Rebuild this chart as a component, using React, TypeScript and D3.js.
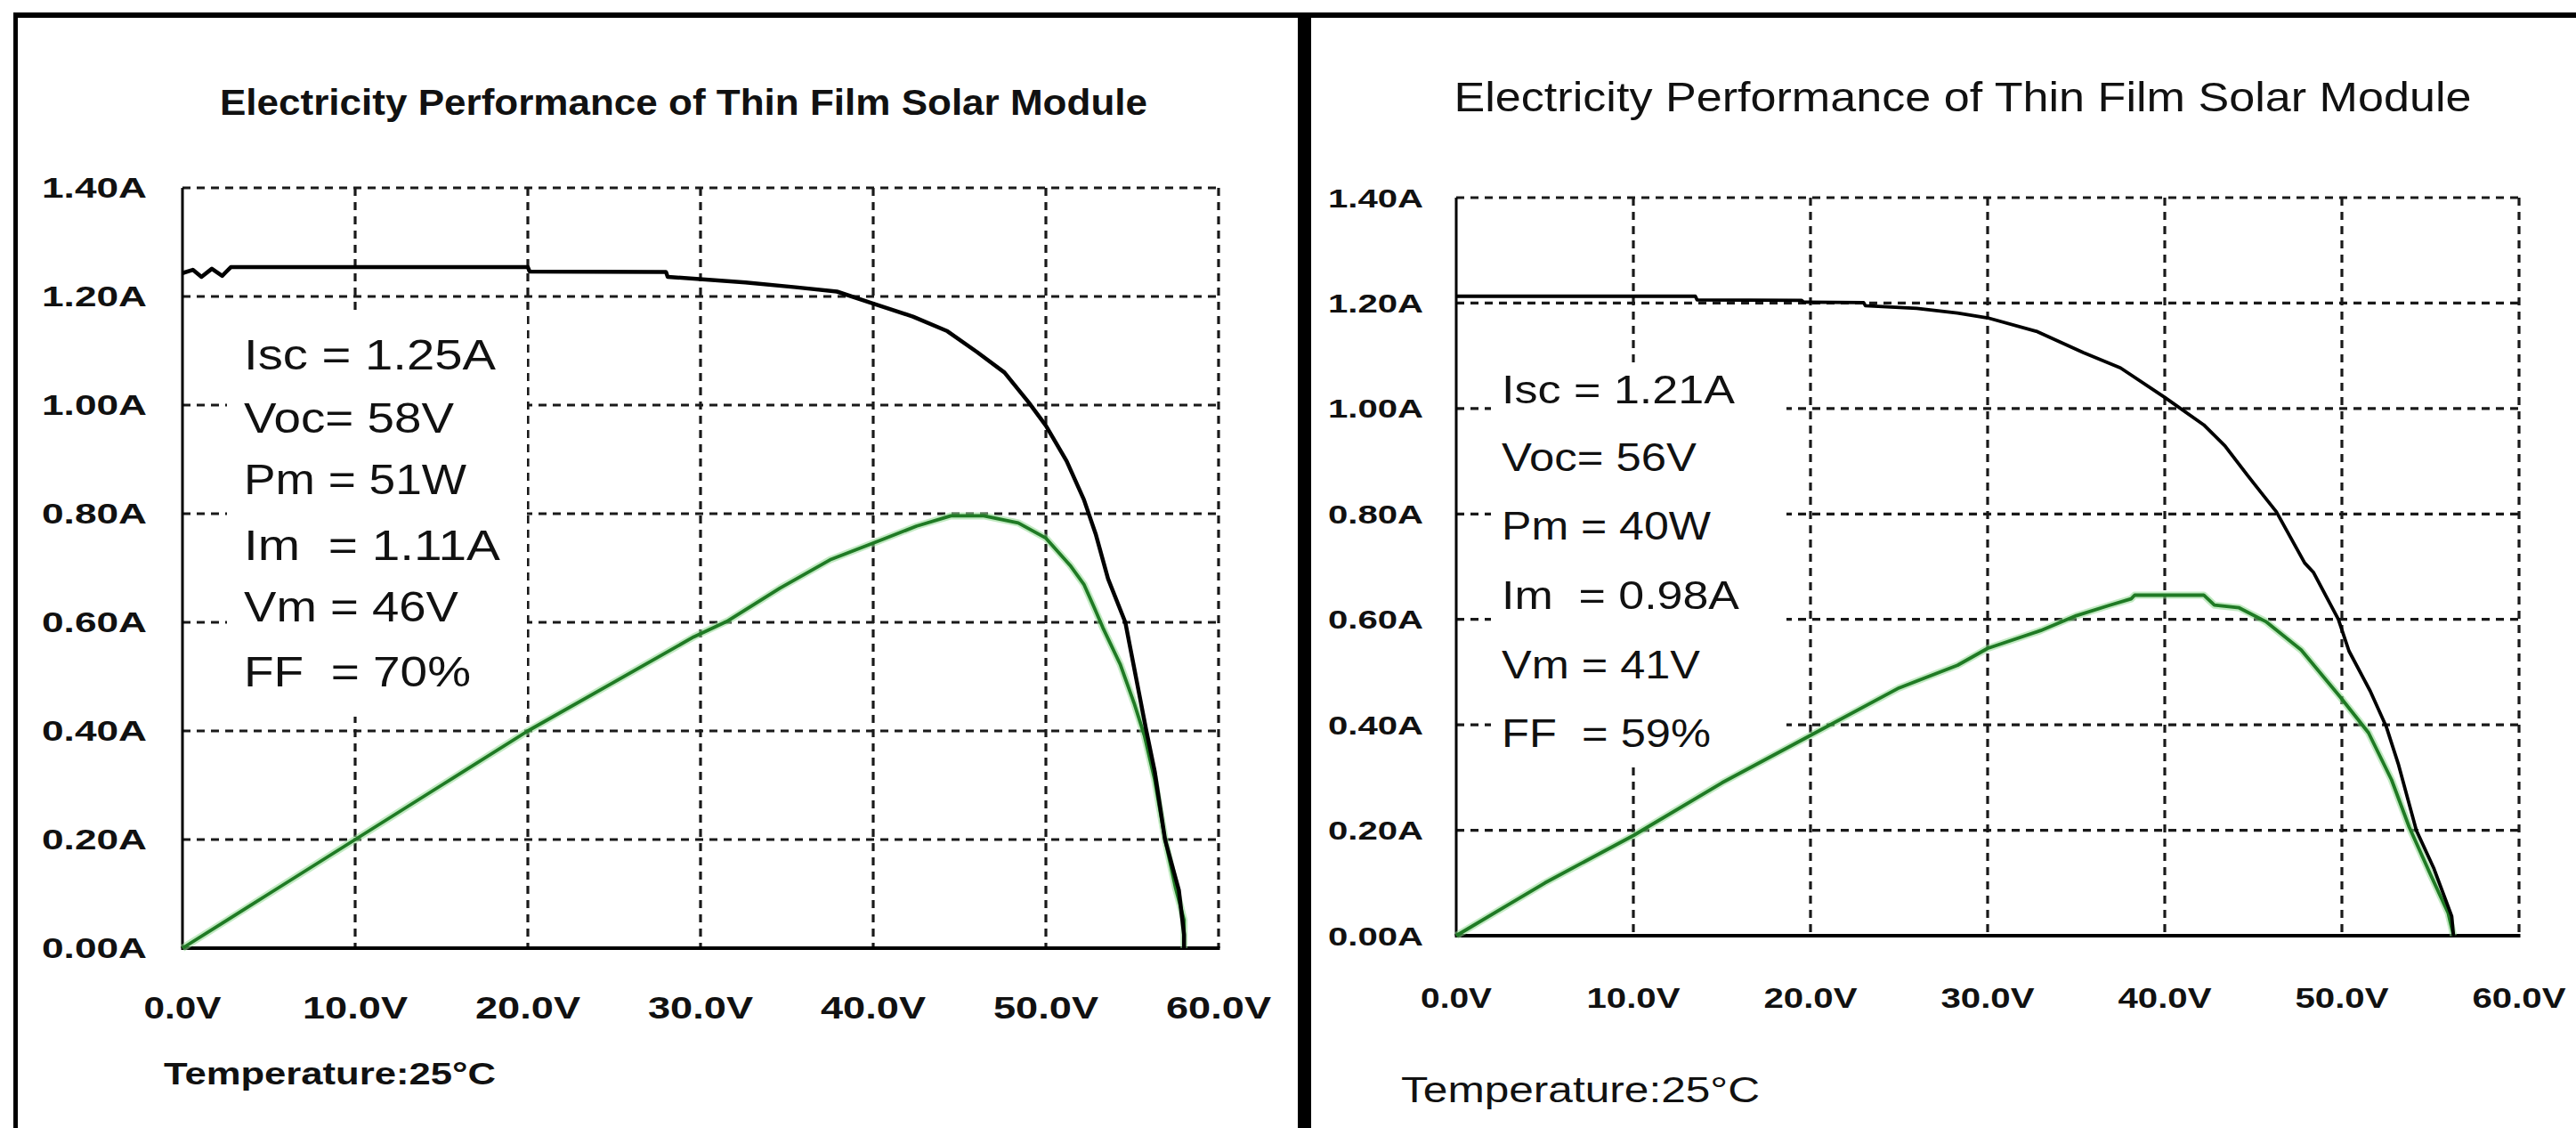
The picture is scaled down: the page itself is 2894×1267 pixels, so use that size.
import React from "react";
import * as d3 from "d3";

type Pt = [number, number];

// axis ticks
const voltageTicks = [0, 10, 20, 30, 40, 50, 60];
const currentTicks = [0, 0.2, 0.4, 0.6, 0.8, 1.0, 1.2, 1.4];

const chartTitle = "Electricity Performance of Thin Film Solar Module";
const temperatureLabel = "Temperature:25°C";

// left module: I-V curve (black) and power curve (green), [volts, amps]
const leftIV: Pt[] = [
  [0, 1.243], [0.6, 1.249], [1.1, 1.236], [1.7, 1.251], [2.3, 1.238], [2.8, 1.254],
  [20, 1.254], [20.1, 1.246], [28, 1.245], [28.1, 1.236], [32.6, 1.226], [35.5, 1.217],
  [37.9, 1.209], [39.9, 1.188], [42.3, 1.163], [44.3, 1.136], [46, 1.098], [47.6, 1.06],
  [49, 1.005], [50, 0.962], [51.2, 0.897], [52.2, 0.826], [52.9, 0.761], [53.6, 0.68],
  [54.6, 0.6], [55.1, 0.518], [55.8, 0.403], [56.3, 0.326], [56.9, 0.2], [57.7, 0.107],
  [58, 0.025], [58, 0],
];
const leftPV: Pt[] = [
  [0, 0], [5, 0.1], [10, 0.2], [15, 0.3], [20, 0.4], [25, 0.49], [29.6, 0.573],
  [31.6, 0.603], [34.6, 0.663], [37.5, 0.715], [40.1, 0.747], [42.5, 0.777], [44.5, 0.796],
  [46.4, 0.796], [48.4, 0.783], [50, 0.755], [51.4, 0.705], [52.2, 0.67], [52.8, 0.627],
  [53.3, 0.59], [54.3, 0.523], [55.1, 0.452], [55.7, 0.392], [56.3, 0.31], [56.9, 0.2],
  [57.5, 0.112], [58, 0.052], [58, 0],
];
const leftStats = ["Isc = 1.25A", "Voc= 58V", "Pm = 51W", "Im  = 1.11A", "Vm = 46V", "FF  = 70%"];

// right module
const rightIV: Pt[] = [
  [0, 1.213], [13.5, 1.213], [13.6, 1.206], [19.5, 1.205], [19.6, 1.202], [23, 1.201],
  [23.1, 1.195], [26, 1.19], [28.3, 1.181], [30, 1.172], [32.8, 1.146], [35.4, 1.106],
  [37.5, 1.077], [40, 1.021], [42.2, 0.969], [43.4, 0.929], [44.7, 0.872], [46.3, 0.804],
  [47.9, 0.707], [48.4, 0.689], [49.8, 0.6], [50.4, 0.54], [51.6, 0.464], [52.5, 0.397],
  [53.2, 0.324], [54.2, 0.2], [55.2, 0.127], [56.2, 0.037], [56.3, 0],
];
const rightPV: Pt[] = [
  [0, 0], [5, 0.1], [10, 0.19], [15, 0.29], [20, 0.38], [25, 0.47], [28.3, 0.513],
  [30, 0.545], [33, 0.579], [35, 0.607], [36.9, 0.627], [38.1, 0.639], [38.3, 0.646],
  [42.2, 0.646], [42.8, 0.627], [44.2, 0.622], [45.7, 0.596], [47.7, 0.542], [49.9, 0.453],
  [51.5, 0.385], [52.8, 0.296], [53.8, 0.206], [55, 0.116], [56, 0.043], [56.3, 0],
];
const rightStats = ["Isc = 1.21A", "Voc= 56V", "Pm = 40W", "Im  = 0.98A", "Vm = 41V", "FF  = 59%"];

const W = 2894;
const H = 1267;
const FONT = "'Liberation Sans', Arial, Helvetica, sans-serif";

const leftLayout = {
  x0: 205, x1: 1369, y0: 1065, y1: 211,
  titleWeight: "bold", tickWeight: "bold",
  titleX: 768, titleY: 115, titleW: 1042, titleSize: 40,
  yLabelX: 165, yLabelW: 118, yLabelSize: 32,
  xLabelY: 1131, xLabelW4: 87, xLabelW5: 118, xLabelSize: 35,
  tempX: 184, tempY: 1205, tempW: 373, tempSize: 35,
  statX: 274, statY: [415, 486, 555, 629, 698, 771], statW: [283, 236, 250, 288, 241, 255], statSize: 48,
  box: { x: 255, y: 355, w: 337, h: 450 },
  ivWidth: 4.5,
};

const rightLayout = {
  x0: 1636, x1: 2830, y0: 1051, y1: 222,
  titleWeight: "normal", tickWeight: "bold",
  titleX: 2205, titleY: 108, titleW: 1143, titleSize: 47,
  yLabelX: 1599, yLabelW: 107, yLabelSize: 30,
  xLabelY: 1121, xLabelW4: 80, xLabelW5: 105, xLabelSize: 32,
  tempX: 1574, tempY: 1224, tempW: 403, tempSize: 41,
  statX: 1687, statY: [453, 529, 606, 684, 762, 839], statW: [262, 219, 235, 267, 223, 235], statSize: 45,
  box: { x: 1675, y: 408, w: 332, h: 450 },
  ivWidth: 3.8,
};

type Layout = typeof leftLayout;

function Panel({ iv, pv, stats, L }: { iv: Pt[]; pv: Pt[]; stats: string[]; L: Layout }) {
  const x = d3.scaleLinear().domain([0, 60]).range([L.x0, L.x1]);
  const y = d3.scaleLinear().domain([0, 1.4]).range([L.y0, L.y1]);
  const line = d3.line<Pt>().x((d) => x(d[0])).y((d) => y(d[1]));
  const fmtV = d3.format(".1f");
  const fmtA = d3.format(".2f");

  return (
    <g fontFamily={FONT} fill="#111">
      {/* dashed grid */}
      {currentTicks.filter((t) => t > 0).map((t) => (
        <line key={"h" + t} x1={x(0)} x2={x(60)} y1={y(t)} y2={y(t)}
          stroke="#1a1a1a" strokeWidth={3.2} strokeDasharray="9 7" />
      ))}
      {voltageTicks.filter((t) => t > 0).map((t) => (
        <line key={"v" + t} x1={x(t)} x2={x(t)} y1={y(1.4)} y2={y(0)}
          stroke="#1a1a1a" strokeWidth={3.2} strokeDasharray="9 7" />
      ))}
      {/* blank area behind the stats */}
      <rect x={L.box.x} y={L.box.y} width={L.box.w} height={L.box.h} fill="#fff" />
      {/* axes */}
      <line x1={x(0)} x2={x(0)} y1={y(1.4)} y2={y(0)} stroke="#000" strokeWidth={3} />
      <line x1={x(0) - 1.5} x2={x(60) + 1.5} y1={y(0)} y2={y(0)} stroke="#000" strokeWidth={4} />

      {/* curves */}
      <path d={line(pv) || ""} fill="none" stroke="#8fd98f" strokeOpacity={0.55} strokeWidth={8} strokeLinejoin="round" />
      <path d={line(pv) || ""} fill="none" stroke="#1f7a24" strokeWidth={3.8} strokeLinejoin="round" />
      <path d={line(iv) || ""} fill="none" stroke="#000" strokeWidth={L.ivWidth} strokeLinejoin="round" />

      {/* title */}
      <text x={L.titleX} y={L.titleY} textAnchor="middle" dominantBaseline="central"
        fontSize={L.titleSize} fontWeight={L.titleWeight} textLength={L.titleW} lengthAdjust="spacingAndGlyphs">
        {chartTitle}
      </text>

      {/* y tick labels */}
      {currentTicks.map((t) => (
        <text key={"yl" + t} x={L.yLabelX} y={y(t)} textAnchor="end" dominantBaseline="central"
          fontSize={L.yLabelSize} fontWeight={L.tickWeight} textLength={L.yLabelW} lengthAdjust="spacingAndGlyphs">
          {fmtA(t) + "A"}
        </text>
      ))}

      {/* x tick labels */}
      {voltageTicks.map((t) => {
        const label = fmtV(t) + "V";
        return (
          <text key={"xl" + t} x={x(t)} y={L.xLabelY} textAnchor="middle" dominantBaseline="central"
            fontSize={L.xLabelSize} fontWeight={L.tickWeight}
            textLength={label.length > 4 ? L.xLabelW5 : L.xLabelW4} lengthAdjust="spacingAndGlyphs">
            {label}
          </text>
        );
      })}

      {/* temperature note */}
      <text x={L.tempX} y={L.tempY} dominantBaseline="central" fontSize={L.tempSize} fontWeight={L.titleWeight}
        textLength={L.tempW} lengthAdjust="spacingAndGlyphs">
        {temperatureLabel}
      </text>

      {/* module parameters */}
      {stats.map((s, i) => (
        <text key={"s" + i} x={L.statX} y={L.statY[i]} fontSize={L.statSize}
          textLength={L.statW[i]} lengthAdjust="spacingAndGlyphs" style={{ whiteSpace: "pre" }}>
          {s}
        </text>
      ))}
    </g>
  );
}

export default function App() {
  return (
    <div style={{ position: "absolute", left: 0, top: 0 }}>
      <svg width={W} height={H} style={{ display: "block" }}>
        <rect width={W} height={H} fill="#fff" />
        <Panel iv={leftIV} pv={leftPV} stats={leftStats} L={leftLayout} />
        <Panel iv={rightIV} pv={rightPV} stats={rightStats} L={rightLayout} />
        {/* frame lines */}
        <rect x={15} y={14} width={W - 15} height={6} fill="#000" />
        <rect x={15} y={14} width={5} height={H - 14} fill="#000" />
        <rect x={1458} y={14} width={15} height={H - 14} fill="#000" />
      </svg>
    </div>
  );
}
